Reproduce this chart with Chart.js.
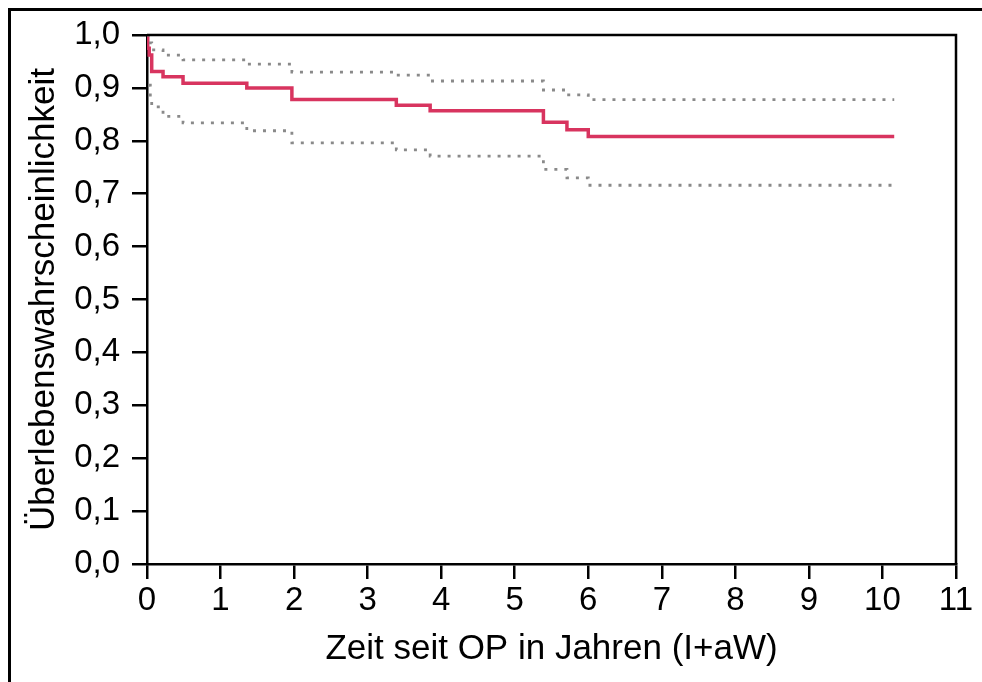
<!DOCTYPE html>
<html>
<head>
<meta charset="utf-8">
<script src="https://cdn.jsdelivr.net/npm/chart.js@4/dist/chart.umd.min.js"></script>
<style>
  html, body { margin: 0; padding: 0; background: #fff; }
  #wrap { width: 982px; height: 682px; position: relative; }
</style>
</head>
<body>
<div id="wrap"><canvas id="kmChart"></canvas></div>
<script>
// Kaplan-Meier estimate (red) with confidence band (grey dotted)
const timeRed = [0, 0.01, 0.03, 0.064, 0.218, 0.49, 1.357, 1.97, 3.39, 3.85, 5.39, 5.71, 6.0, 10.16];
const survRed = [1.0, 0.975, 0.962, 0.931, 0.921, 0.909, 0.900, 0.878, 0.867, 0.857, 0.835, 0.821, 0.808, 0.808];

const timeUpper = [0, 0.02, 0.064, 0.218, 0.49, 1.357, 1.97, 3.39, 3.85, 5.39, 5.71, 6.0, 10.16];
const survUpper = [1.0, 0.985, 0.972, 0.962, 0.953, 0.945, 0.930, 0.924, 0.913, 0.896, 0.887, 0.878, 0.878];

const timeLower = [0.02, 0.045, 0.064, 0.218, 0.49, 1.357, 1.97, 3.39, 3.85, 5.39, 5.71, 6.0, 10.16];
const survLower = [0.905, 0.875, 0.864, 0.846, 0.834, 0.819, 0.796, 0.783, 0.771, 0.746, 0.730, 0.716, 0.716];

const xTickLabels = ["0", "1", "2", "3", "4", "5", "6", "7", "8", "9", "10", "11"];
const yTickLabels = ["0,0", "0,1", "0,2", "0,3", "0,4", "0,5", "0,6", "0,7", "0,8", "0,9", "1,0"];

const xTitle = "Zeit seit OP in Jahren (I+aW)";
const yTitle = "Überlebenswahrscheinlichkeit";

function toPoints(xs, ys) {
  return xs.map((x, i) => ({ x: x, y: ys[i] }));
}

const fontFamily = "'Liberation Sans', Arial, Helvetica, sans-serif";

// box around plot + cropped outer frame
const framePlugin = {
  id: "frame",
  afterDraw(chart) {
    const ctx = chart.ctx;
    const a = chart.chartArea;
    ctx.save();
    ctx.strokeStyle = "#000";
    ctx.lineWidth = 2.5;
    ctx.beginPath();
    ctx.moveTo(a.left, a.top);
    ctx.lineTo(a.right, a.top);
    ctx.lineTo(a.right, a.bottom);
    ctx.stroke();
    ctx.fillStyle = "#000";
    ctx.fillRect(8, 8, chart.width - 8, 3);
    ctx.fillRect(8, 8, 3, chart.height - 8);
    ctx.restore();
  },
};

const ctx = document.getElementById("kmChart").getContext("2d");

new Chart(ctx, {
  type: "line",
  data: {
    datasets: [
      {
        label: "obere Grenze",
        data: toPoints(timeUpper, survUpper),
        stepped: true,
        borderColor: "#8a8a8a",
        borderWidth: 2.8,
        borderDash: [3, 7],
        pointRadius: 0,
        fill: false,
      },
      {
        label: "untere Grenze",
        data: toPoints(timeLower, survLower),
        stepped: true,
        borderColor: "#8a8a8a",
        borderWidth: 2.8,
        borderDash: [3, 7],
        pointRadius: 0,
        fill: false,
      },
      {
        label: "Überleben",
        data: toPoints(timeRed, survRed),
        stepped: true,
        borderColor: "#d8345f",
        borderWidth: 3.5,
        pointRadius: 0,
        fill: false,
      },
    ],
  },
  options: {
    responsive: true,
    maintainAspectRatio: false,
    animation: false,
    layout: { padding: { top: 35, right: 26, left: 0, bottom: 0 } },
    plugins: {
      legend: { display: false },
      tooltip: { enabled: false },
    },
    scales: {
      x: {
        type: "linear",
        min: 0,
        max: 11,
        afterFit: (scale) => { scale.height = 118; },
        ticks: {
          stepSize: 1,
          color: "#000",
          padding: 2,
          maxRotation: 0,
          font: { family: fontFamily, size: 33 },
          callback: (v, i) => xTickLabels[i],
        },
        grid: {
          drawOnChartArea: false,
          drawTicks: true,
          tickLength: 15,
          color: "#000",
          lineWidth: 2.5,
        },
        border: { display: true, color: "#000", width: 2.5 },
        title: {
          display: true,
          text: xTitle,
          color: "#000",
          font: { family: fontFamily, size: 35 },
          padding: { top: 0, bottom: 12 },
        },
      },
      y: {
        type: "linear",
        min: 0,
        max: 1,
        afterFit: (scale) => { scale.width = 147; },
        ticks: {
          stepSize: 0.1,
          color: "#000",
          padding: 12,
          font: { family: fontFamily, size: 33 },
          callback: (v, i) => yTickLabels[i],
        },
        grid: {
          drawOnChartArea: false,
          drawTicks: true,
          tickLength: 15,
          color: "#000",
          lineWidth: 2.5,
        },
        border: { display: true, color: "#000", width: 2.5 },
        title: {
          display: true,
          text: yTitle,
          color: "#000",
          font: { family: fontFamily, size: 35 },
          padding: { top: 23, bottom: 0 },
        },
      },
    },
  },
  plugins: [framePlugin],
});
</script>
</body>
</html>
